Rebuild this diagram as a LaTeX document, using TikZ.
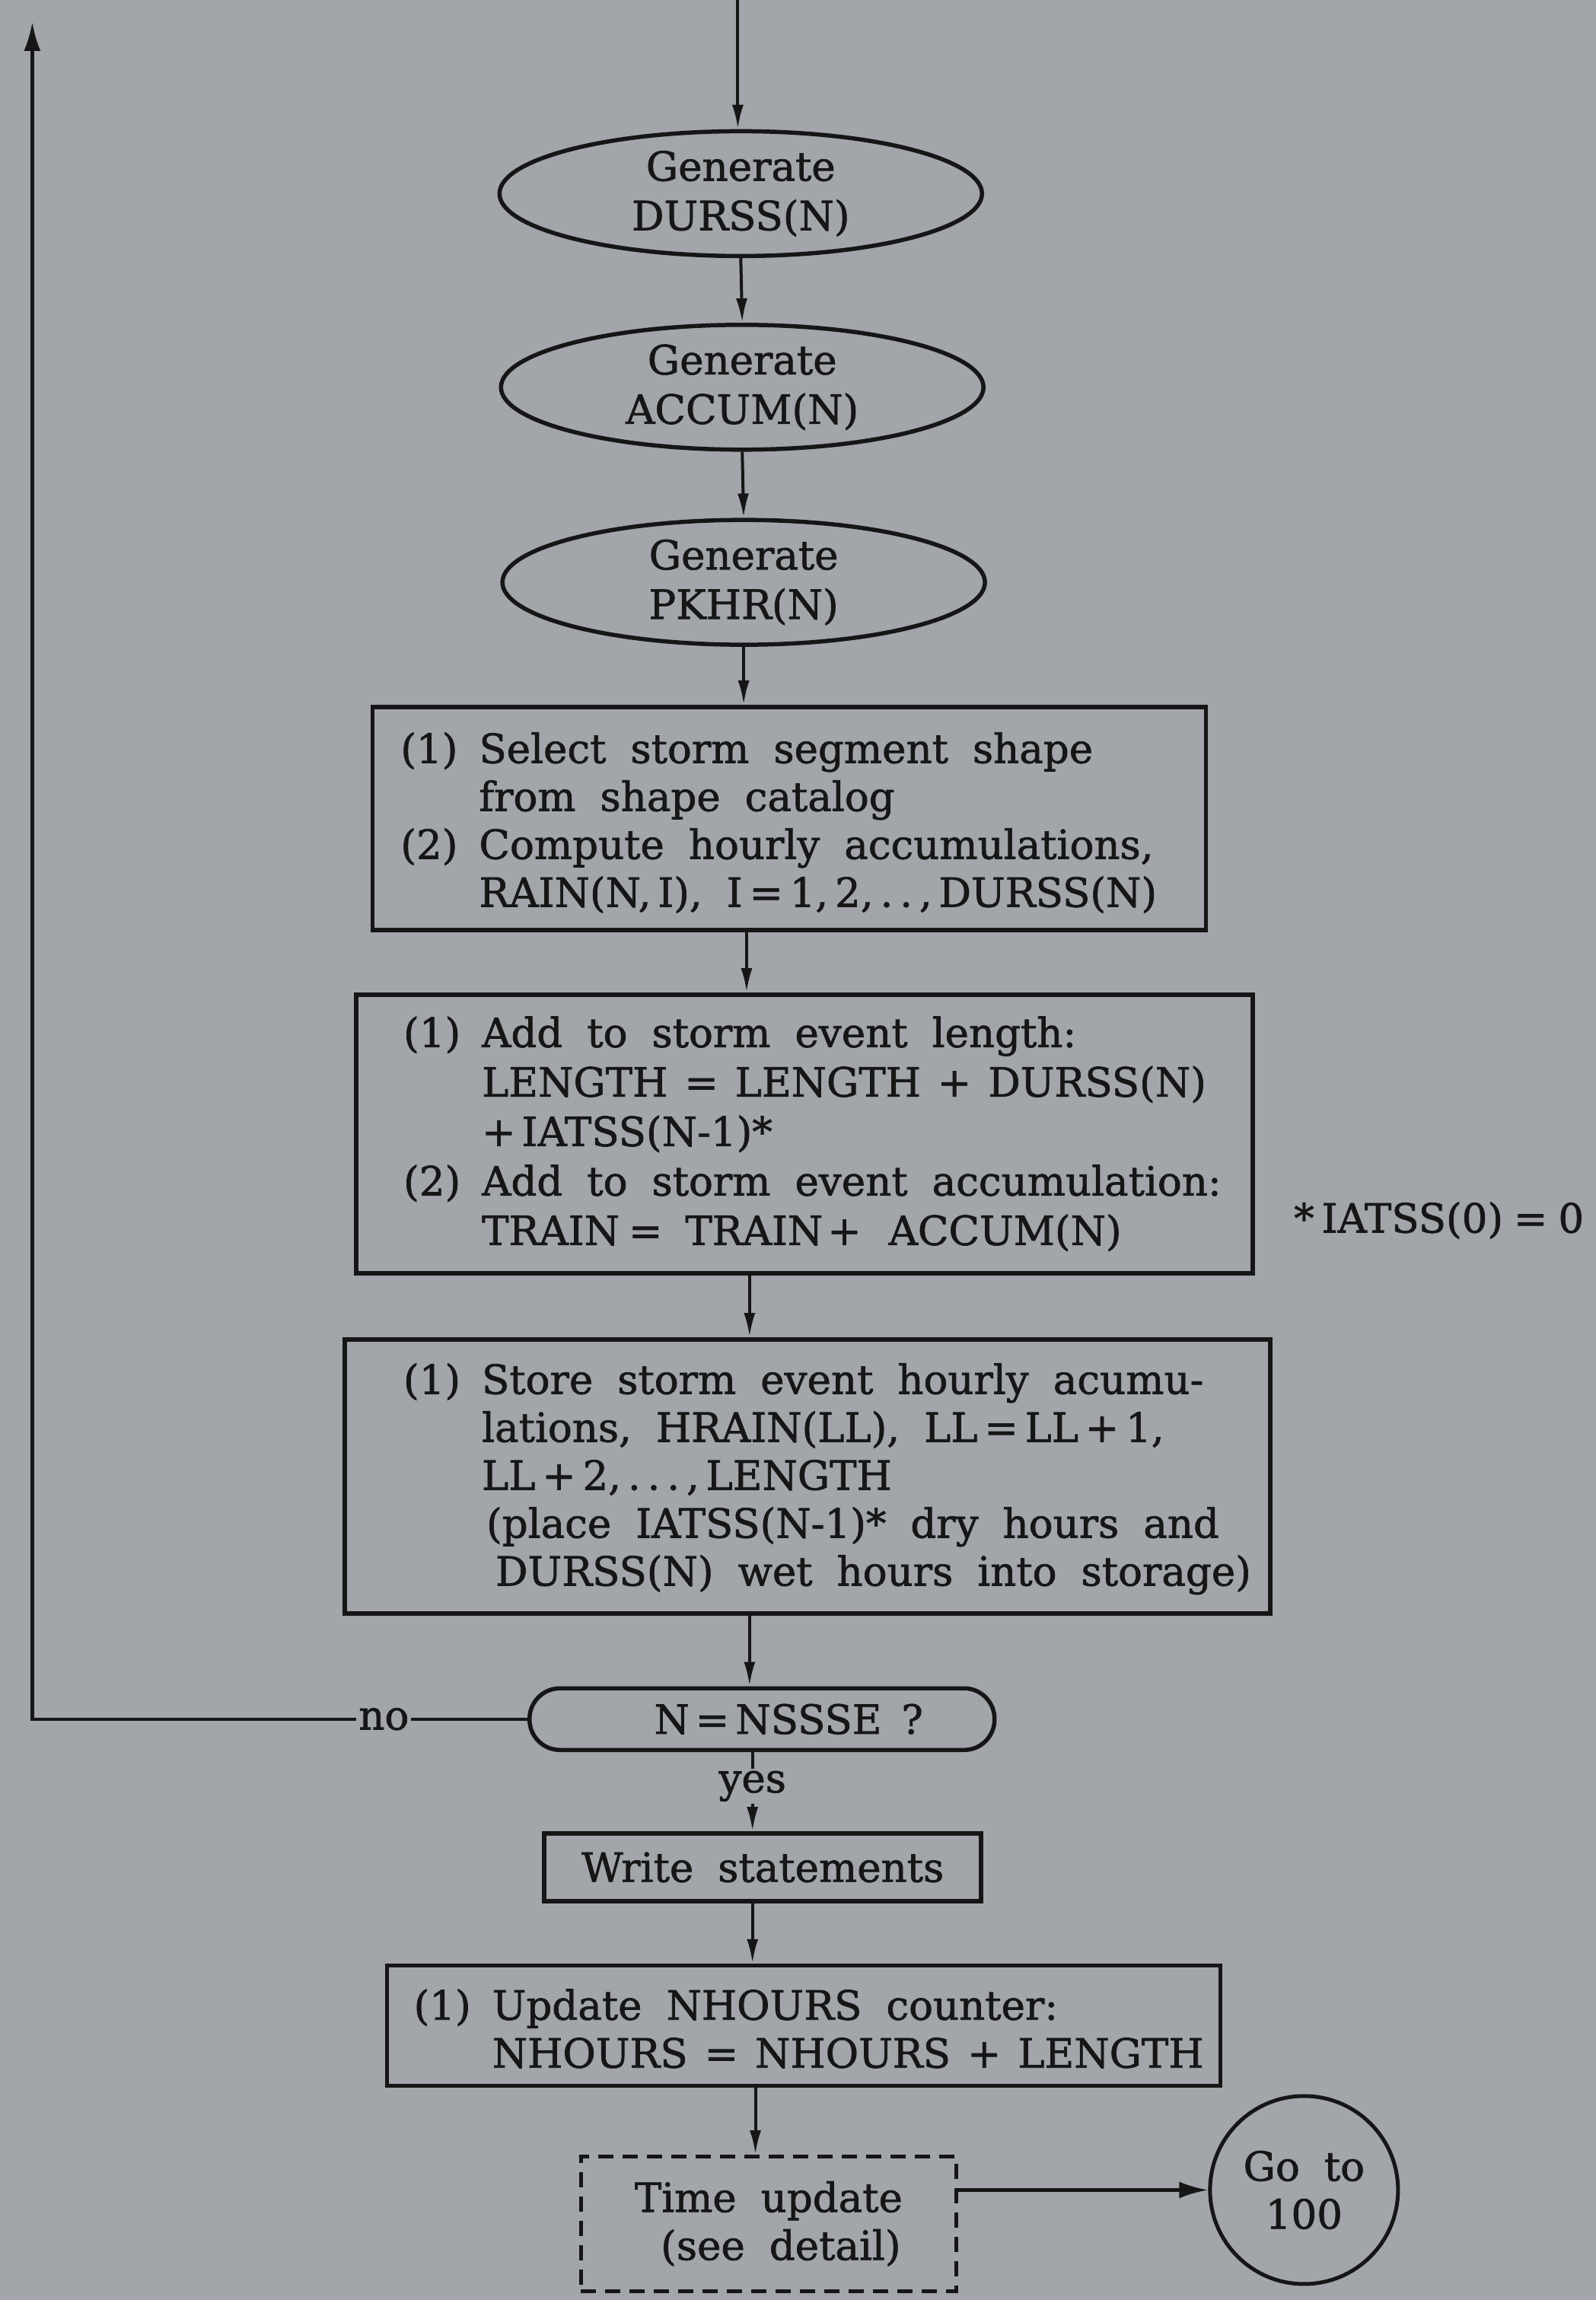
\documentclass[tikz,border=0pt]{standalone}
\usepackage{fontspec}
\setmainfont{DejaVu Serif}[WordSpace=1.9,FakeBold=1.3]
\usetikzlibrary{arrows.meta,shapes.geometric}
\definecolor{paper}{HTML}{A2A5AA}
\definecolor{ink}{HTML}{161616}
\newcommand{\lbox}[3][0pt]{\raisebox{#1}[\height][\depth]{\makebox[#2][l]{\begin{tabular}{@{}l@{\hspace{28pt}}l@{}}#3\end{tabular}}}}
\newcommand{\sq}{\hspace{22pt}}
\begin{document}
\begin{tikzpicture}[x=1.9274pt,y=-1.9274pt,
  txt/.style={text=ink,font=\fontsize{53}{63}\selectfont},
  ell/.style={ellipse,draw=ink,line width=5.5pt,inner sep=0pt,minimum width=634pt,minimum height=164pt,align=center,text=ink,font=\fontsize{53}{65}\selectfont},
  boxx/.style={rectangle,draw=ink,line width=5.5pt,inner ysep=0pt,txt},
  arr/.style={draw=ink,line width=4pt,-{Latex[length=32pt,width=15pt]}},
  bigarr/.style={draw=ink,line width=4.5pt,-{Latex[length=38pt,width=22pt]}},
  lbl/.style={txt,fill=paper,inner sep=3pt}]
\fill[paper] (0,0) rectangle (1088,1568);
\useasboundingbox (0,0) rectangle (1088,1568);

\node[ell] (e1) at (505,132) {Generate\\DURSS(N)};
\node[ell] (e2) at (506,264) {Generate\\ACCUM(N)};
\node[ell] (e3) at (507,397) {Generate\\PKHR(N)};

\node[boxx,inner xsep=37pt,minimum height=293pt] (b1) at (538,558)
 {\lbox[-9pt]{1021pt}{
 (1) & Select storm segment shape\\
     & from shape catalog\\
 (2) & Compute hourly accumulations,\\
     & RAIN(N,\,I), I\,=\,1,\,2,\,.\,.\,,\,DURSS(N)}};

\node[boxx,inner xsep=62pt,minimum height=366pt,font=\fontsize{53}{65}\selectfont] (b2) at (548.5,773)
 {\lbox[-3pt]{1054pt}{
 (1) & Add to storm event length:\\
     & LENGTH\sq=\sq LENGTH\sq+\sq DURSS(N)\\
     & +\hspace{8pt}IATSS(N-1)*\\
 (2) & Add to storm event accumulation:\\
     & TRAIN\hspace{12pt}=\hspace{30pt}TRAIN\hspace{6pt}+\hspace{36pt}ACCUM(N)}};

\node[txt] (note) at (981,832) {*\hspace{10pt}IATSS(0)\hspace{14pt}=\hspace{14pt}0};

\node[boxx,inner xsep=77pt,minimum height=360pt] (b3) at (550.5,1006.5)
 {\lbox[-5pt]{1062pt}{
 (1) & Store storm event hourly acumu-\\
     & lations, HRAIN(LL), LL\,=\,LL\,+\,1,\\
     & LL\,+\,2,\,.\,.\,.\,,\,LENGTH\\
     & \hspace{6pt}(place IATSS(N-1)* dry hours and\\
     & \hspace{18pt}DURSS(N) wet hours into storage)}};

\node[rectangle,rounded corners=40pt,draw=ink,line width=5.5pt,minimum width=611pt,minimum height=81pt,inner sep=0pt,txt] (dec) at (519.5,1172) {\hspace{70pt}N\hspace{8pt}=\hspace{8pt}NSSSE\hspace{26pt}?};

\node[boxx,minimum width=574pt,minimum height=89pt,inner xsep=0pt] (wr) at (520,1273) {Write statements};

\node[boxx,inner xsep=35pt,minimum height=158pt] (b4) at (548,1381)
 {\lbox[-11pt]{1025pt}{
 (1) & Update NHOURS counter:\\
     & NHOURS\sq=\sq NHOURS\sq+\sq LENGTH}};

\node[rectangle,draw=ink,line width=4.5pt,dash pattern=on 20pt off 12pt,minimum width=493pt,minimum height=177pt,inner sep=0pt,align=center,txt] (dsh) at (524,1516) {Time update\\ \ (see detail)};

\node[circle,draw=ink,line width=5pt,minimum size=247pt,inner sep=0pt,align=center,txt] (circ) at (889,1493) {Go to\\100};

\coordinate (entry) at (503,0);
\coordinate (ret) at (22,15);
\coordinate (sp1) at (507,0);
\coordinate (sp2) at (509,0);
\coordinate (sp3) at (511,0);
\coordinate (sp4) at (513,0);
\coordinate (sp5) at (515,0);

\draw[arr] (entry) -- (entry |- e1.north);
\draw[arr] (e1.south) -- (e2.north);
\draw[arr] (e2.south) -- (e3.north);
\draw[arr] (e3.south) -- (sp1 |- b1.north);
\draw[arr] (sp2 |- b1.south) -- (sp2 |- b2.north);
\draw[arr] (sp3 |- b2.south) -- (sp3 |- b3.north);
\draw[arr] (sp3 |- b3.south) -- (sp3 |- dec.north);
\draw[arr] (sp4 |- dec.south) -- node[lbl,pos=0.43]{yes} (sp4 |- wr.north);
\draw[arr] (sp4 |- wr.south) -- (sp4 |- b4.north);
\draw[arr] (sp5 |- b4.south) -- (sp5 |- dsh.north);
\draw[bigarr] (circ.west -| dsh.east) -- (circ.west);
\draw[bigarr] (dec.west) -- node[lbl,pos=0.29]{no} (dec.west -| ret) -- (ret);
\end{tikzpicture}
\end{document}
